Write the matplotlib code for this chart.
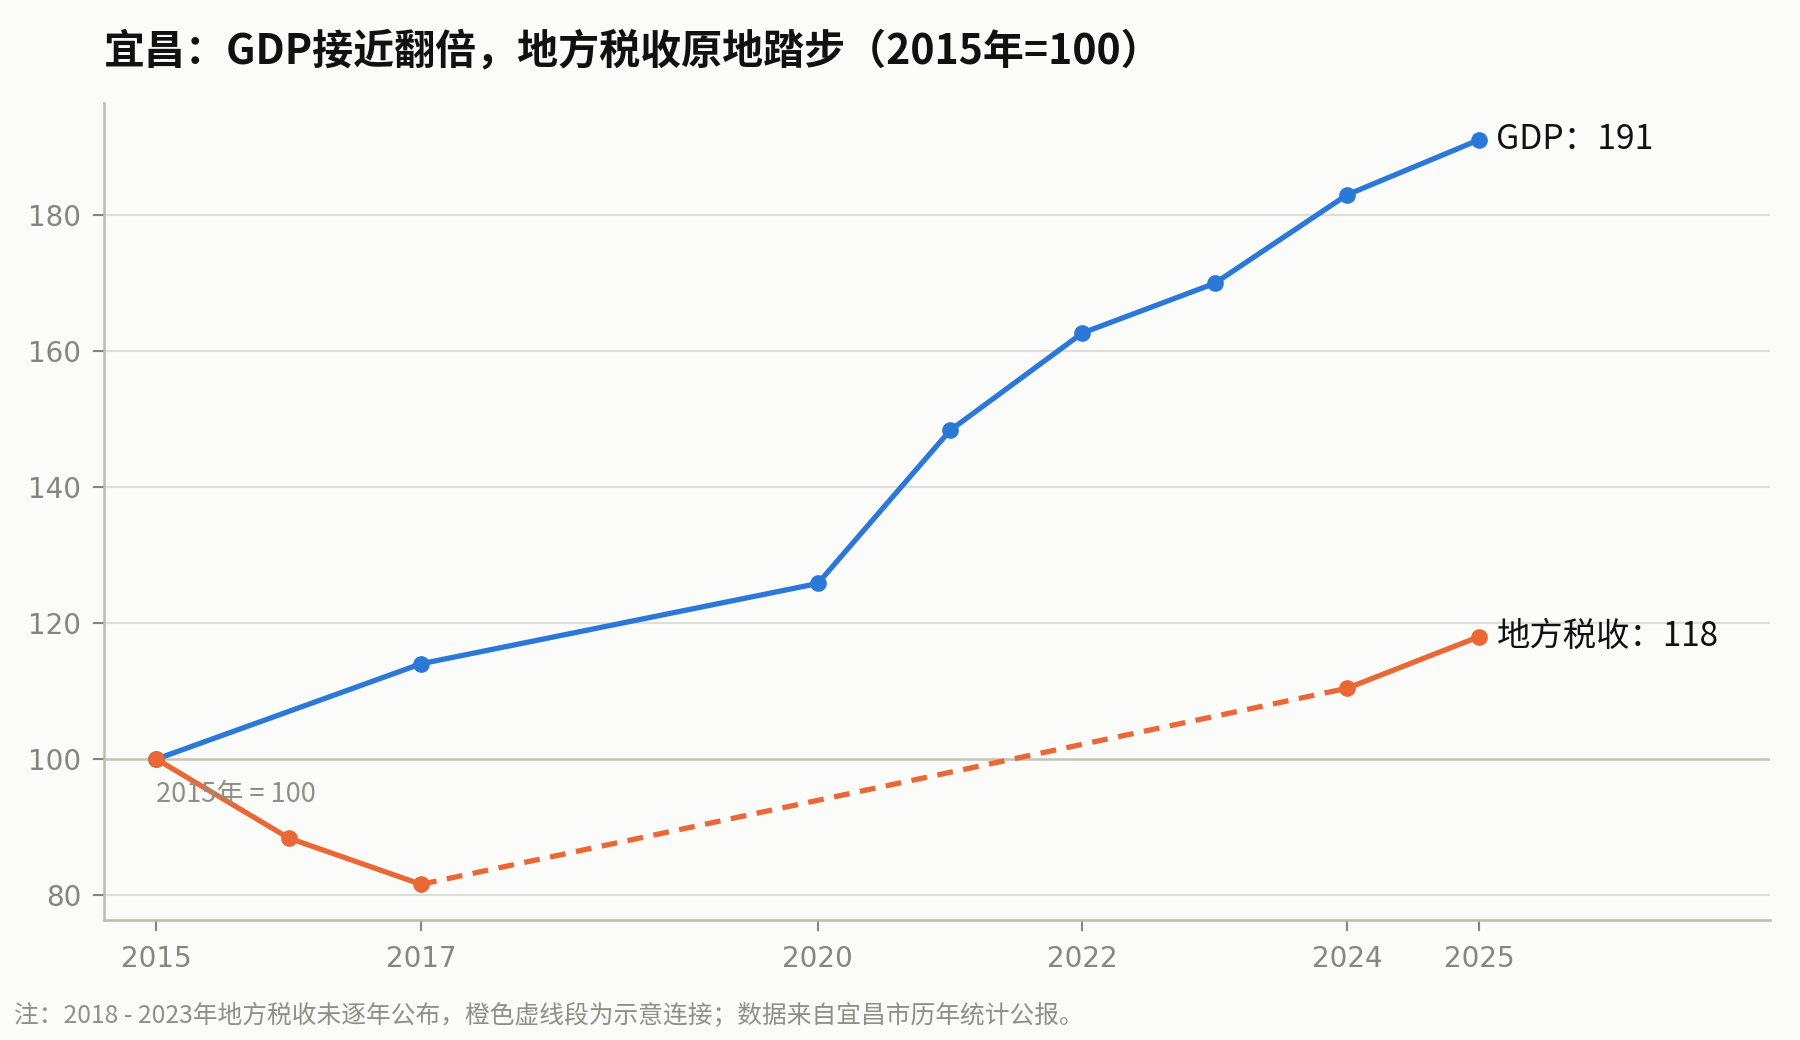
import matplotlib
matplotlib.use("Agg")
import matplotlib.pyplot as plt

plt.rcParams['font.family'] = ['Noto Sans CJK SC', 'DejaVu Sans']

gdp_years = [2015, 2017, 2020, 2021, 2022, 2023, 2024, 2025]
gdp_values = [100, 114.0, 125.8, 148.3, 162.6, 169.9, 182.9, 191.0]

tax_years_a = [2015, 2016, 2017]
tax_values_a = [100, 88.4, 81.6]
tax_years_gap = [2017, 2024]
tax_values_gap = [81.6, 110.4]
tax_years_b = [2024, 2025]
tax_values_b = [110.4, 118.0]

xticks = [2015, 2017, 2020, 2022, 2024, 2025]
yticks = [80, 100, 120, 140, 160, 180]

title = "宜昌：GDP接近翻倍，地方税收原地踏步（2015年=100）"
note = "注：2018 - 2023年地方税收未逐年公布，橙色虚线段为示意连接；数据来自宜昌市历年统计公报。"

BG = "#fbfbf9"
BLUE = "#2b78d8"
ORANGE = "#e96835"
GRID = "#deded8"
SPINE = "#bcbcb2"
TICKC = "#86867f"

fig = plt.figure(figsize=(18, 10.4), dpi=100, facecolor=BG)
ax = fig.add_axes([0.0575, 0.115, 0.926, 0.786], facecolor=BG)

ax.set_xlim(2014.6, 2027.2)
ax.set_ylim(76.3, 196.4)

for y in yticks:
    if y == 100:
        ax.axhline(y, color="#c4c4b8", lw=1.8, zorder=1)
    else:
        ax.axhline(y, color=GRID, lw=1.5, zorder=1)

lw = 3.8
ms = 11
ax.plot(gdp_years, gdp_values, color=BLUE, lw=lw, marker='o', ms=ms, zorder=3)
ax.plot(tax_years_a, tax_values_a, color=ORANGE, lw=lw, marker='o', ms=ms, zorder=3)
ax.plot(tax_years_gap, tax_values_gap, color=ORANGE, lw=lw, ls=(0, (3.0, 2.0)), zorder=2)
ax.plot(tax_years_b, tax_values_b, color=ORANGE, lw=lw, marker='o', ms=ms, zorder=3)

ax.text(gdp_years[-1] + 0.13, gdp_values[-1], f"GDP：{gdp_values[-1]:.0f}",
        fontsize=24.2, color="#111111", va='center', ha='left')
ax.text(tax_years_b[-1] + 0.13, tax_values_b[-1], f"地方税收：{tax_values_b[-1]:.0f}",
        fontsize=24, color="#111111", va='center', ha='left')
ax.text(2015, 96.8, "2015年 = 100", fontsize=19.5, color="#8f8f88", va='top', ha='left')

ax.set_xticks(xticks)
ax.set_xticklabels([str(x) for x in xticks], fontfamily='DejaVu Sans')
ax.set_yticks(yticks)
ax.set_yticklabels([str(y) for y in yticks], fontfamily='DejaVu Sans')
ax.tick_params(axis='both', colors=TICKC, labelsize=20, length=8, width=1.5, pad=8)
ax.tick_params(axis='x', pad=10)

for s in ['top', 'right']:
    ax.spines[s].set_visible(False)
for s in ['left', 'bottom']:
    ax.spines[s].set_color(SPINE)
    ax.spines[s].set_linewidth(1.8)

fig.text(0.0575, 0.951, title, fontsize=29.5, fontweight='bold', color="#111111",
         va='center', ha='left')
fig.text(0.008, 0.023, note, fontsize=17.8, color="#8f8f88", va='center', ha='left')

fig.savefig("out.png", dpi=100, facecolor=BG)
